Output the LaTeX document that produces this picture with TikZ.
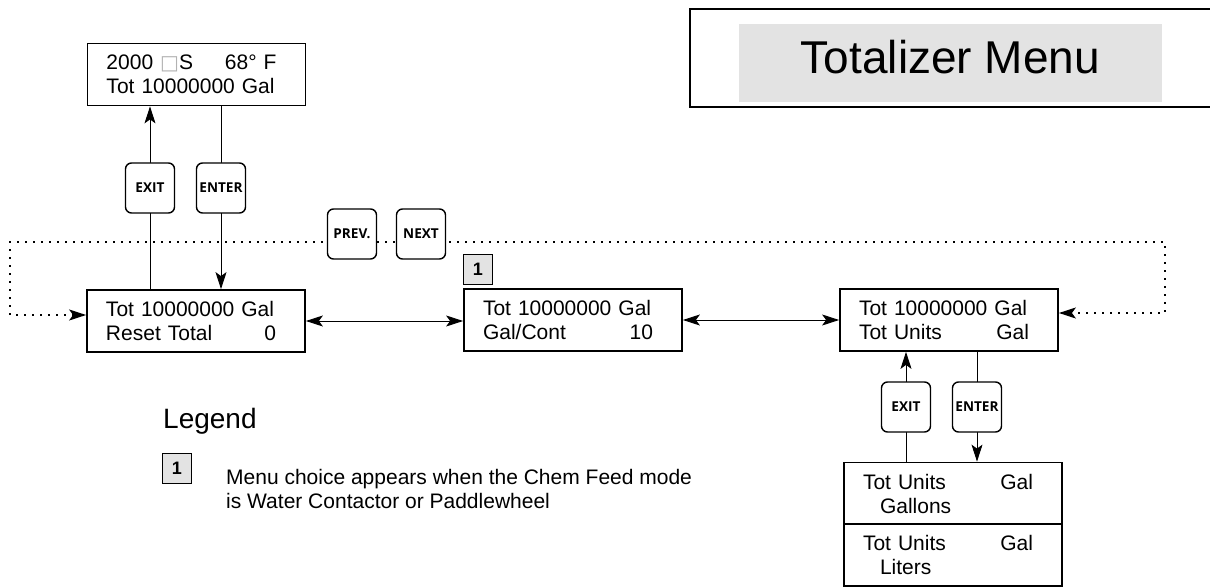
\documentclass[tikz,border=0pt]{standalone}
\usepackage{fontspec}
\setmainfont{Liberation Sans}
\newfontfamily\keyfont{Open Sans}
\newfontfamily\symfont{DejaVu Sans}
\usepackage{tikz}
\usetikzlibrary{positioning, arrows.meta, calc, backgrounds}
\definecolor{panel}{HTML}{E3E3E3}

\newcommand{\lcdrow}[2]{\makebox[170bp][l]{#1\hfill #2}}

\tikzset{
  >={Stealth[length=17bp,width=11bp,inset=4bp]},
  lcd/.style={draw, line width=1.8bp, minimum width=218bp, minimum height=62bp,
    text width=180bp, inner xsep=19bp, align=left,
    font=\fontsize{21bp}{24bp}\selectfont},
  key/.style={draw, fill=white, line width=1.4bp, rounded corners=6bp,
    minimum width=49bp, minimum height=50bp, inner sep=0pt,
    font=\keyfont\bfseries\fontsize{13.6bp}{15bp}\selectfont},
  badge/.style={draw, fill=panel, line width=0.8bp, minimum width=29bp,
    minimum height=30bp, inner sep=0pt, font=\bfseries\fontsize{18bp}{20bp}\selectfont},
  wire/.style={line width=0.9bp},
  scan/.style={line width=1.3bp, dash pattern=on 1.3bp off 6.7bp},
}

\begin{document}
\begin{tikzpicture}[x=1bp, y=-1bp]
\useasboundingbox (0,0) rectangle (1210,587);

% title
\draw[line width=1.8bp] (1215,9) -- (690,9) -- (690,107) -- (1215,107);
\node[fill=panel, minimum width=423bp, minimum height=78bp, text depth=12bp,
  font=\fontsize{46bp}{50bp}\selectfont] (title) at (950.5,63) {Totalizer Menu};

% displays
\node[lcd] (home) at (196.5,74.5)
  {\lcdrow{2000 {\color{gray!60}\symfont\fontsize{20bp}{20bp}\selectfont\raisebox{0.5bp}{□}}S}{68° F}\\Tot 10000000 Gal};
\node[lcd] (reset) at (196,321) {Tot 10000000 Gal\\\lcdrow{Reset Total}{0}};
\node[lcd] (gpc) at (573,320) {Tot 10000000 Gal\\\lcdrow{Gal/Cont}{10}};
\node[lcd] (units) at (949,320) {Tot 10000000 Gal\\\lcdrow{Tot Units}{Gal}};
\node[lcd] (gallons) at (953,493.5) {\lcdrow{Tot Units}{Gal}\\\hspace*{17bp}Gallons};
\node[lcd] (liters) at (953,555) {\lcdrow{Tot Units}{Gal}\\\hspace*{17bp}Liters};

% keys
\node[key] (exitA) at (150,188) {EXIT};
\node[key] (enterA) at (221,188) {ENTER};
\node[key] (prev) at (352,234) {PREV.};
\node[key] (next) at (421,234) {NEXT};
\node[key] (exitB) at (906,407) {EXIT};
\node[key] (enterB) at (977,407) {ENTER};

\coordinate (scanL) at (10,242);
\coordinate (scanR) at (1165,242);

\begin{scope}[on background layer]
\draw[wire, ->] (exitA |- reset.north) -- (exitA |- home.south);
\draw[wire, ->] (enterA |- home.south) -- (enterA |- reset.north);
\draw[wire, <->] (reset.east) -- (reset.east -| gpc.west);
\draw[wire, <->] (gpc.east) -- (gpc.east -| units.west);
\draw[wire, ->] (exitB |- gallons.north) -- (exitB |- units.south);
\draw[wire, ->] (enterB |- units.south) -- (enterB |- gallons.north);
\draw[scan, <->] ([yshift=6bp]reset.west) -| (scanL) -- (scanR) |- ([yshift=7bp]units.east);
\end{scope}

\node[badge, anchor=south west] (opt) at ([yshift=3bp]gpc.north west) {1};

% legend
\node[anchor=base west, inner sep=0pt, font=\fontsize{28bp}{30bp}\selectfont] (legend) at (163,428) {Legend};
\node[badge] (key1) at (177,468.5) {1};
\node[anchor=north west, align=left, inner sep=0pt, font=\fontsize{21bp}{24bp}\selectfont]
  (note) at (226,469) {Menu choice appears when the Chem Feed mode\\is Water Contactor or Paddlewheel};
\end{tikzpicture}
\end{document}
